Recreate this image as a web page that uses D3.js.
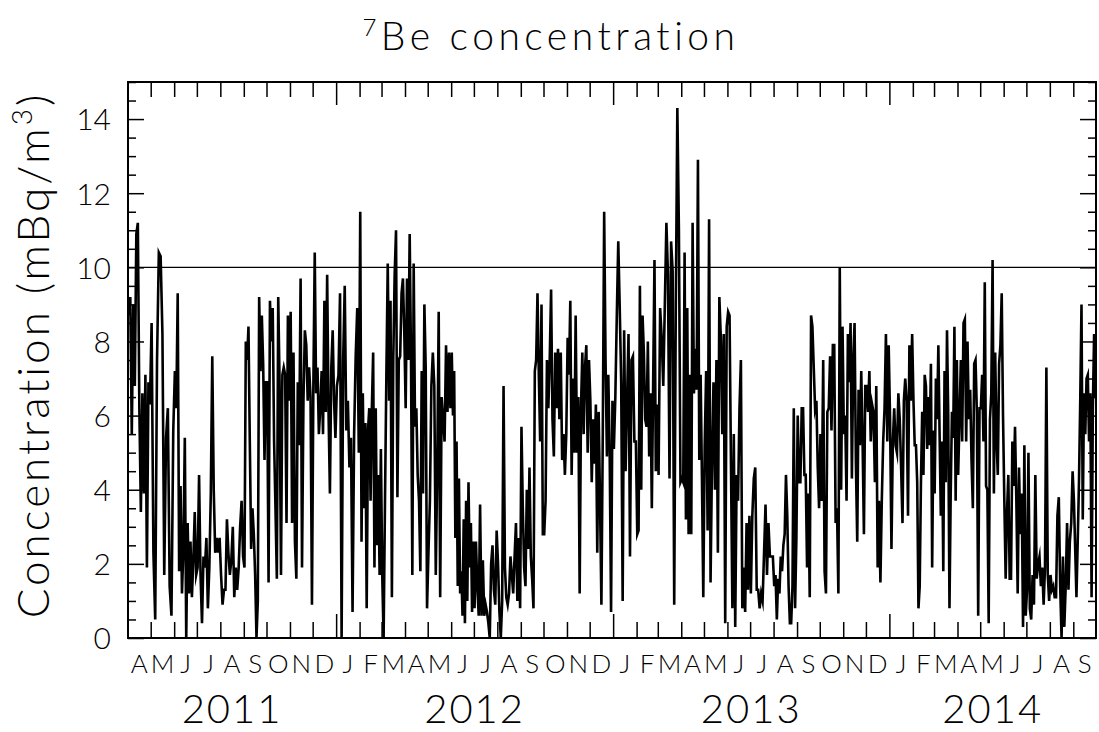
<!DOCTYPE html>
<html>
<head>
<meta charset="utf-8">
<script src="https://cdn.jsdelivr.net/npm/d3@7"></script>
<style>
  html, body { margin: 0; padding: 0; background: #fff; }
  svg text { font-family: "Lato", "DejaVu Sans", sans-serif; font-weight: 300; fill: #000; }
</style>
</head>
<body>
<script>
// 7Be daily concentration (mBq/m3), one inner list per month
const be2011 = [ // Apr .. Dec
  [8.7, 9.2, 5.5, 9.0, 6.8, 10.9, 11.2, 6.2, 3.4, 6.6, 3.9, 7.1, 1.9, 6.9, 6.3],
  [8.5, 2.3, 0.5, 7.5, 10.4, 10.3, 8.2, 1.7, 5.4, 6.2, 1.4, 0.6, 5.6],
  [7.2, 6.2, 9.3, 1.8, 4.1, 1.2, 2.4, 5.4, 0.0, 3.1, 1.2, 2.6, 1.1, 2.1, 3.4, 1.7],
  [1.9, 4.4, 1.7, 0.4, 2.2, 1.9, 2.7, 0.8, 1.9, 3.9, 7.6, 4.0, 2.3, 2.7, 2.3, 2.7],
  [1.7, 0.9, 1.3, 1.3, 3.2, 2.3, 1.7, 2.1, 3.0, 1.1, 1.9, 1.3, 1.9, 3.0, 3.7, 2.2],
  [1.9, 8.0, 7.5, 8.4, 5.3, 2.4, 3.5, 2.8, 1.7, 0.0, 1.0, 9.2, 7.2, 8.7, 7.4, 4.8, 6.9],
  [6.9, 1.5, 9.1, 8.0, 8.9, 5.3, 3.5, 1.6, 9.2, 6.8, 1.7, 7.1, 7.3, 7.1, 3.1, 8.7, 6.4],
  [8.8, 3.1, 7.7, 2.6, 1.6, 6.9, 5.2, 9.7, 1.9, 6.4, 8.3, 7.9, 6.4, 7.3, 6.5, 0.9],
  [6.8, 10.4, 6.6, 7.3, 5.5, 6.2, 7.2, 5.5, 9.1, 6.1, 9.8, 6.1, 3.9, 7.3, 8.3, 6.4, 5.4]
];
const be2012 = [
  [6.8, 7.1, 9.3, 0.0, 7.5, 9.5, 5.6, 6.4, 4.6, 5.4, 0.7, 5.5, 7.6, 8.9, 5.0],
  [11.5, 2.6, 6.6, 3.5, 5.8, 0.8, 5.6, 6.2, 3.7, 6.2, 7.7, 1.9, 6.2, 2.5, 4.4, 1.7, 5.1],
  [1.7, 0.0, 3.7, 7.1, 10.1, 6.4, 9.1, 1.1, 7.5, 9.8, 11.0, 3.8, 7.5, 7.6, 9.3, 9.7, 8.2],
  [6.2, 9.7, 7.5, 10.9, 7.5, 1.7, 10.1, 5.7, 6.2, 4.4, 3.7, 1.8, 7.2, 3.9, 9.0, 7.3, 0.8],
  [2.3, 3.7, 6.8, 7.7, 6.8, 1.7, 4.6, 8.8, 1.1, 6.5, 5.9, 5.3, 7.9, 6.1, 7.7, 6.2],
  [7.7, 6.0, 7.2, 2.7, 5.3, 1.4, 4.3, 1.2, 1.8, 0.6, 3.2, 0.4, 3.7, 1.0, 4.2, 1.9, 3.1, 0.7, 2.6],
  [0.8, 2.6, 1.4, 0.6, 3.6, 0.6, 2.1, 0.6, 0.9, 0.7, 0.4, 0.0, 2.0, 2.5, 1.3, 0.9, 2.9],
  [2.0, 0.7, 0.0, 1.0, 6.8, 1.9, 1.1, 0.9, 1.2, 2.2, 1.7, 1.2, 2.2, 3.1, 1.0, 2.7, 0.8],
  [5.7, 3.5, 1.9, 1.4, 4.0, 2.4, 4.6, 2.2, 1.6, 0.8, 7.2, 7.5, 9.3, 7.1, 5.3, 9.0, 2.8],
  [2.8, 3.7, 7.5, 6.2, 7.5, 9.4, 5.9, 4.9, 7.7, 6.2, 7.8, 5.9, 7.7, 4.8, 5.5, 4.4, 5.5],
  [8.1, 7.1, 9.1, 4.4, 7.0, 5.0, 8.7, 5.0, 6.5, 1.2, 6.2, 7.7, 5.5, 7.3, 7.9, 5.0, 7.5],
  [6.4, 4.2, 5.9, 4.7, 6.3, 2.3, 6.1, 3.7, 0.9, 5.5, 11.5, 7.5, 4.9, 7.1, 5.0, 0.7, 6.4]
];
const be2013 = [
  [5.1, 6.5, 8.7, 10.7, 8.9, 6.9, 1.0, 8.3, 4.5, 6.4, 8.2, 2.2, 7.5, 7.6, 5.3, 5.3],
  [2.8, 2.9, 9.5, 4.0, 8.7, 7.7, 5.9, 5.7, 8.0, 4.9, 6.6, 3.5, 6.9, 10.2, 4.5, 6.3],
  [4.4, 8.9, 8.1, 6.8, 9.0, 11.2, 9.8, 4.3, 10.7, 9.9, 0.9, 8.9, 14.3, 11.0, 4.2],
  [4.3, 4.2, 10.4, 3.2, 8.9, 2.8, 7.1, 2.8, 11.2, 6.6, 7.8, 6.7, 12.9, 4.8, 7.1, 4.3, 1.1],
  [5.2, 7.2, 2.9, 11.3, 1.5, 4.8, 6.9, 4.0, 7.5, 2.3, 9.2, 8.1, 5.5, 8.2, 0.4, 8.4],
  [8.8, 8.7, 4.7, 0.8, 5.5, 0.3, 4.4, 3.7, 6.2, 7.5, 0.8, 1.9, 0.7, 3.1, 1.3, 3.3],
  [1.2, 3.3, 4.3, 4.6, 1.3, 1.3, 0.8, 1.2, 1.0, 2.3, 3.6, 1.7, 3.1, 2.2, 2.2, 2.2],
  [1.4, 1.7, 0.5, 1.6, 1.2, 2.2, 1.8, 2.5, 2.8, 4.4, 3.3, 1.4, 0.4, 0.4, 1.4, 6.2, 0.8, 2.7],
  [6.0, 4.2, 4.2, 6.2, 6.2, 4.4, 4.4, 1.9, 3.9, 1.1, 8.7, 8.4, 7.3, 6.2, 6.4, 4.6, 3.5],
  [5.5, 3.7, 7.5, 1.8, 1.2, 6.1, 6.2, 7.6, 5.6, 7.9, 7.9, 3.1, 3.5, 1.2, 10.0, 4.0, 8.4],
  [5.5, 6.0, 3.7, 8.2, 6.9, 8.5, 4.3, 7.5, 8.5, 4.7, 2.6, 6.7, 5.2, 7.2, 5.3, 2.8, 6.8],
  [6.8, 6.1, 7.2, 5.3, 6.3, 6.1, 4.2, 6.8, 1.9, 3.7, 1.5, 3.7, 5.3, 6.2, 8.2, 5.3, 7.9]
];
const be2014 = [ // Jan .. Sep
  [5.9, 2.4, 5.3, 6.2, 5.2, 5.0, 6.6, 5.9, 4.6, 3.1, 6.4, 7.0, 6.4, 3.3, 7.9, 6.4, 8.2],
  [6.4, 5.2, 5.2, 4.2, 0.8, 1.4, 4.2, 6.1, 4.4, 7.1, 6.8, 5.1, 6.5, 5.2, 7.4, 1.9, 5.6],
  [3.9, 7.0, 5.9, 7.9, 5.5, 3.3, 5.3, 1.8, 7.2, 4.2, 8.3, 6.0, 0.8, 3.9, 6.1, 5.4, 8.4, 3.7, 7.5],
  [4.4, 5.9, 7.5, 5.3, 8.5, 8.6, 5.3, 8.0, 5.9, 6.7, 4.8, 3.5, 7.4, 7.5, 6.1, 0.6, 6.2],
  [6.2, 7.1, 5.3, 9.6, 4.1, 4.0, 0.4, 5.9, 6.6, 10.2, 3.9, 7.7, 5.4, 4.4, 7.4, 7.9, 9.3, 6.0],
  [3.7, 1.6, 3.4, 4.4, 1.6, 1.6, 5.3, 4.1, 5.7, 3.7, 1.2, 4.6, 2.8, 3.9, 0.3, 5.2, 0.6],
  [1.3, 5.0, 0.8, 0.5, 1.7, 0.9, 4.4, 1.6, 2.0, 2.2, 1.4, 1.9, 0.9, 1.9, 7.3, 1.7, 1.0],
  [1.7, 1.3, 1.4, 1.1, 1.1, 3.3, 3.8, 1.4, 0.0, 2.2, 0.3, 1.4, 3.1, 1.3, 2.6, 3.1, 4.5],
  [3.7, 2.4, 1.1, 2.6, 4.2, 6.4, 9.0, 3.2, 6.6, 5.5, 7.0, 7.1, 5.3, 6.6, 1.1, 6.2, 8.2, 6.5]
];
const years = [2011, 2012, 2013, 2014];
const firstMonth = [3, 0, 0, 0];          // month index each year's list starts at
const monthLetters = ["J", "F", "M", "A", "M", "J", "J", "A", "S", "O", "N", "D"];
const yTicks = d3.range(0, 15.01, 0.5);
const yLabels = [0, 2, 4, 6, 8, 10, 12, 14];
const refLevel = 10;

// flatten into dated records, spreading each month's values across that month
let data = [];
[be2011, be2012, be2013, be2014].forEach((year, yi) => {
    year.forEach((vals, mi) => {
        let m0 = new Date(years[yi], firstMonth[yi] + mi, 1);
        let m1 = new Date(years[yi], firstMonth[yi] + mi + 1, 1);
        vals.forEach((v, i) => {
            let t = +m0 + (i + 0.5) / vals.length * (m1 - m0);
            data.push({date: new Date(t), value: v});
        });
    });
});

const W = 1099, H = 732;
const frame = {left: 128, right: 1096, top: 82, bottom: 638};

let svg = d3.select("body").append("svg")
    .attr("width", W)
    .attr("height", H);

let start = new Date(2011, 3, 1), end = new Date(2014, 9, 1);
let x = d3.scaleTime()
    .domain([start, end])
    .range([frame.left, frame.right]);
let y = d3.scaleLinear()
    .domain([0, 15])
    .range([frame.bottom, frame.top]);

let monthTicks = d3.timeMonth.range(d3.timeMonth.offset(start, 1), end);
let isYear = d => d.getMonth() === 0;

// clip for the data line
svg.append("clipPath").attr("id", "plotclip")
  .append("rect")
    .attr("x", frame.left).attr("y", frame.top)
    .attr("width", frame.right - frame.left)
    .attr("height", frame.bottom - frame.top);

// reference line at 10
svg.append("line")
    .attr("x1", frame.left).attr("x2", frame.right)
    .attr("y1", y(refLevel)).attr("y2", y(refLevel))
    .attr("stroke", "#000").attr("stroke-width", 1.3);

// data
let line = d3.line()
    .x(d => x(d.date))
    .y(d => y(d.value));
svg.append("path")
    .datum(data)
    .attr("clip-path", "url(#plotclip)")
    .attr("fill", "none")
    .attr("stroke", "#000")
    .attr("stroke-width", 2.6)
    .attr("stroke-linejoin", "miter")
    .attr("stroke-miterlimit", 10)
    .attr("d", line);

// axes (ticks pointing inward)
function styleAxis(g) {
    g.select(".domain").remove();
    g.selectAll(".tick line").attr("stroke", "#000").attr("stroke-width", 1.5);
}
let axBottom = svg.append("g")
    .attr("transform", "translate(0," + frame.bottom + ")")
    .call(d3.axisBottom(x).tickValues(monthTicks).tickSize(-16).tickFormat(""))
    .call(styleAxis);
axBottom.selectAll(".tick line").filter(isYear).attr("y2", -24);

let axTop = svg.append("g")
    .attr("transform", "translate(0," + frame.top + ")")
    .call(d3.axisTop(x).tickValues(monthTicks).tickSize(-15).tickFormat(""))
    .call(styleAxis);
axTop.selectAll(".tick line").filter(isYear).attr("y2", 23);

let axLeft = svg.append("g")
    .attr("transform", "translate(" + frame.left + ",0)")
    .call(d3.axisLeft(y).tickValues(yTicks).tickSize(-8).tickPadding(17)
        .tickFormat(d => yLabels.includes(d) ? d : ""))
    .call(styleAxis);
axLeft.selectAll(".tick line").filter(d => d % 2 === 0).attr("x2", 16);
axLeft.selectAll(".tick text").attr("font-size", 30).attr("dy", "0.36em");

let axRight = svg.append("g")
    .attr("transform", "translate(" + frame.right + ",0)")
    .call(d3.axisRight(y).tickValues(yTicks).tickSize(-8).tickFormat(""))
    .call(styleAxis);
axRight.selectAll(".tick line").filter(d => d % 2 === 0).attr("x2", -16);

// frame
svg.append("rect")
    .attr("x", frame.left).attr("y", frame.top)
    .attr("width", frame.right - frame.left)
    .attr("height", frame.bottom - frame.top)
    .attr("fill", "none")
    .attr("stroke", "#000")
    .attr("stroke-width", 2);

// month letters
let months = d3.timeMonth.range(start, end);
svg.append("g")
    .selectAll("text")
    .data(months)
    .join("text")
    .attr("x", d => x(new Date(+d + (d3.timeMonth.offset(d, 1) - d) / 2)))
    .attr("y", 673)
    .attr("text-anchor", "middle")
    .attr("font-size", 26)
    .text(d => monthLetters[d.getMonth()]);

// year labels centred under the visible part of each year
svg.append("g")
    .selectAll("text")
    .data(years)
    .join("text")
    .attr("x", d => {
        let a = d3.max([start, new Date(d, 0, 1)]);
        let b = d3.min([end, new Date(d + 1, 0, 1)]);
        return (x(a) + x(b)) / 2;
    })
    .attr("y", 723)
    .attr("text-anchor", "middle")
    .attr("font-size", 40)
    .attr("letter-spacing", 2)
    .text(d => d);

// title
let title = svg.append("text")
    .attr("x", 551)
    .attr("y", 50)
    .attr("text-anchor", "middle")
    .attr("font-size", 39)
    .attr("letter-spacing", 4.5);
title.append("tspan").attr("font-size", 24).attr("dy", -14).text("7");
title.append("tspan").attr("dy", 14).text("Be concentration");

// y axis title
let ylab = svg.append("text")
    .attr("transform", "translate(49,355) rotate(-90)")
    .attr("text-anchor", "middle")
    .attr("font-size", 44)
    .attr("letter-spacing", 3);
ylab.append("tspan").text("Concentration (mBq/m");
ylab.append("tspan").attr("font-size", 28).attr("dy", -17).text("3");
ylab.append("tspan").attr("dy", 17).text(")");
</script>
</body>
</html>
